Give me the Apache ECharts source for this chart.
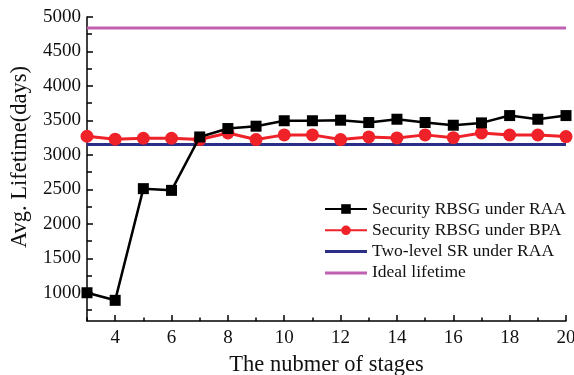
<!DOCTYPE html>
<html>
<head>
<meta charset="utf-8">
<script src="https://cdn.jsdelivr.net/npm/echarts@6/dist/echarts.min.js"></script>
<style>
  html, body { margin: 0; padding: 0; background: #fff; }
  #chart { width: 574px; height: 375px; }
</style>
</head>
<body>
<div id="chart"></div>
<script>
// Number of stages on the x axis
const stages = [3, 4, 5, 6, 7, 8, 9, 10, 11, 12, 13, 14, 15, 16, 17, 18, 19, 20];

// Average lifetime (days) per stage count
const rbsgRAA = [1000, 890, 2510, 2485, 3260, 3382, 3416, 3495, 3495, 3503, 3469, 3517, 3469, 3430, 3464, 3570, 3517, 3570];
const rbsgBPA = [3270, 3227, 3241, 3241, 3222, 3317, 3222, 3290, 3290, 3222, 3260, 3246, 3290, 3250, 3317, 3288, 3288, 3266];

// Constant reference levels
const twoLevelSR = 3150;
const idealLifetime = 4840;

// Axis tick values
const yLabelValues = [1000, 1500, 2000, 2500, 3000, 3500, 4000, 4500, 5000];
const yMinorValues = [750, 1250, 1750, 2250, 2750, 3250, 3750, 4250, 4750];
const xLabelValues = [4, 6, 8, 10, 12, 14, 16, 18, 20];

const seriesNames = [
  'Security RBSG under RAA',
  'Security RBSG under BPA',
  'Two-level SR under RAA',
  'Ideal lifetime'
];

const FONT = '"Liberation Serif", "DejaVu Serif", serif';
const LINE_ICON = 'path://M0,0 L42,0 L42,3 L0,3 Z';

const pairs = (ys) => stages.map((x, i) => [x, ys[i]]);
const flat = (v) => [[stages[0], v], [stages[stages.length - 1], v]];

const chart = echarts.init(document.getElementById('chart'), null, { renderer: 'canvas' });

chart.setOption({
  animation: false,
  backgroundColor: '#fff',
  grid: { left: 87, right: 8, top: 17, bottom: 54, containLabel: false, outerBoundsMode: 'none' },
  legend: {
    orient: 'vertical',
    left: 319,
    top: 195,
    itemWidth: 42,
    itemHeight: 12,
    itemGap: 3.3,
    textStyle: { fontFamily: FONT, fontSize: 17.5, color: '#111' },
    data: [
      { name: seriesNames[0] },
      { name: seriesNames[1] },
      { name: seriesNames[2], icon: LINE_ICON },
      { name: seriesNames[3], icon: LINE_ICON }
    ]
  },
  xAxis: [
    {
      type: 'value',
      min: 3,
      max: 20,
      axisLine: { show: true, lineStyle: { color: '#000', width: 1.5 } },
      axisTick: { show: true, inside: true, length: 6, customValues: xLabelValues, lineStyle: { color: '#000', width: 1.5 } },
      axisLabel: { customValues: xLabelValues, fontFamily: FONT, fontSize: 19, color: '#111', margin: 8 },
      splitLine: { show: false },
      name: 'The nubmer of stages',
      nameLocation: 'middle',
      nameGap: 33,
      nameTextStyle: { fontFamily: FONT, fontSize: 22.5, color: '#111' }
    },
    {
      // minor ticks for odd stage counts
      type: 'value',
      min: 3,
      max: 20,
      position: 'bottom',
      interval: 1,
      axisLine: { show: false },
      axisTick: { show: true, inside: true, length: 3.5, lineStyle: { color: '#000', width: 1.5 } },
      axisLabel: { show: false },
      splitLine: { show: false }
    }
  ],
  yAxis: [
    {
      type: 'value',
      min: 590,
      max: 5000,
      axisLine: { show: true, lineStyle: { color: '#000', width: 1.5 } },
      axisTick: { show: true, inside: true, length: 6, customValues: yLabelValues, lineStyle: { color: '#000', width: 1.5 } },
      axisLabel: {
        customValues: yLabelValues,
        formatter: (v) => String(v),
        fontFamily: FONT, fontSize: 19, color: '#111', margin: 6
      },
      splitLine: { show: false },
      name: 'Avg. Lifetime(days)',
      nameLocation: 'middle',
      nameGap: 55,
      nameRotate: 90,
      nameTextStyle: { fontFamily: FONT, fontSize: 22.5, color: '#111', padding: [0, 0, 0, 24] }
    },
    {
      // minor ticks between labelled values
      type: 'value',
      min: 590,
      max: 5000,
      position: 'left',
      axisLine: { show: false },
      axisTick: { show: true, inside: true, length: 5, customValues: yMinorValues, lineStyle: { color: '#000', width: 1.5 } },
      axisLabel: { show: false },
      splitLine: { show: false }
    }
  ],
  series: [
    {
      name: seriesNames[3],
      type: 'line',
      data: flat(idealLifetime),
      symbol: 'none',
      lineStyle: { color: '#c060b0', width: 3 },
      itemStyle: { color: '#c060b0' },
      z: 2
    },
    {
      name: seriesNames[2],
      type: 'line',
      data: flat(twoLevelSR),
      symbol: 'none',
      lineStyle: { color: '#2b2f86', width: 3 },
      itemStyle: { color: '#2b2f86' },
      z: 2
    },
    {
      name: seriesNames[1],
      type: 'line',
      data: pairs(rbsgBPA),
      symbol: 'circle',
      symbolSize: 13,
      lineStyle: { color: '#ee2228', width: 3 },
      itemStyle: { color: '#ee2228' },
      z: 3
    },
    {
      name: seriesNames[0],
      type: 'line',
      data: pairs(rbsgRAA),
      symbol: 'rect',
      symbolSize: 11,
      lineStyle: { color: '#000', width: 2.5 },
      itemStyle: { color: '#000' },
      z: 4
    }
  ]
});
</script>
</body>
</html>
